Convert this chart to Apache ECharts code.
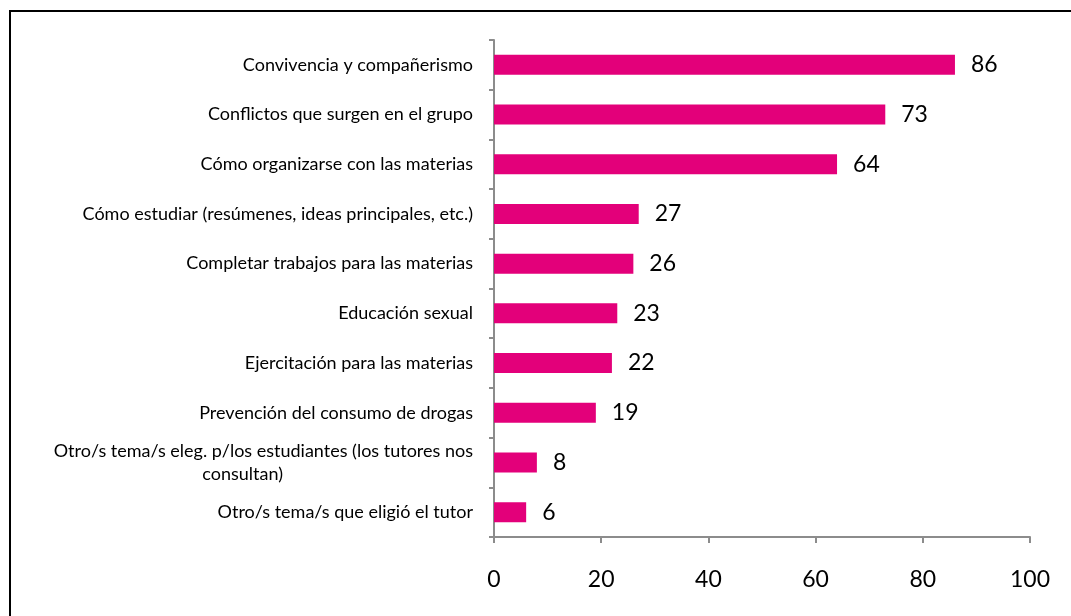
<!DOCTYPE html>
<html>
<head>
<meta charset="utf-8">
<script src="https://cdn.jsdelivr.net/npm/echarts@6/dist/echarts.min.js"></script>
<style>
  html, body { margin: 0; padding: 0; background: #fff; }
  #main { width: 1071px; height: 616px; }
</style>
</head>
<body>
<div id="main"></div>
<script>
// categorias (de abajo hacia arriba, como en el eje)
var temas = [
    'Otro/s tema/s que eligió el tutor',
    'Otro/s tema/s eleg. p/los estudiantes (los tutores nos consultan)',
    'Prevención del consumo de drogas',
    'Ejercitación para las materias',
    'Educación sexual',
    'Completar trabajos para las materias',
    'Cómo estudiar (resúmenes, ideas principales, etc.)',
    'Cómo organizarse con las materias',
    'Conflictos que surgen en el grupo',
    'Convivencia y compañerismo'
];
var valores = [6, 8, 19, 22, 23, 26, 27, 64, 73, 86];
var ticksX = [0, 20, 40, 60, 80, 100];

var chart = echarts.init(document.getElementById('main'));

var option = {
    animation: false,
    textStyle: { fontFamily: 'Lato, "Open Sans", sans-serif' },
    graphic: [{
        type: 'rect',
        shape: { x: 10, y: 11, width: 1200, height: 800 },
        style: { fill: 'none', stroke: '#000', lineWidth: 2 }
    }],
    grid: { left: 494, right: 41, top: 40, bottom: 79 },
    xAxis: {
        type: 'value',
        min: ticksX[0],
        max: ticksX[ticksX.length - 1],
        interval: 20,
        splitLine: { show: false },
        axisLine: { show: true, lineStyle: { color: '#8c8c8c', width: 2 } },
        axisTick: { show: true, length: 6, lineStyle: { color: '#8c8c8c', width: 2 } },
        axisLabel: { fontSize: 23, color: '#000', margin: 31 }
    },
    yAxis: {
        type: 'category',
        data: temas,
        axisLine: { lineStyle: { color: '#8c8c8c', width: 2 } },
        axisTick: { show: true, length: 5, lineStyle: { color: '#8c8c8c', width: 2 } },
        axisLabel: {
            fontSize: 18,
            color: '#000',
            margin: 21,
            formatter: function (v) {
                // la etiqueta larga va en dos lineas, la segunda centrada
                if (v.indexOf('eleg.') >= 0) {
                    return '{a|Otro/s tema/s eleg. p/los estudiantes (los tutores nos}\n{b|consultan)}';
                }
                return v;
            },
            rich: {
                a: { fontSize: 18, color: '#000', lineHeight: 23 },
                b: { fontSize: 18, color: '#000', lineHeight: 23, padding: [0, 190, 0, 0] }
            }
        }
    },
    series: [{
        type: 'bar',
        data: valores,
        barWidth: 20,
        itemStyle: { color: '#E3007A' },
        label: {
            show: true,
            position: 'right',
            distance: 16,
            fontSize: 23,
            color: '#000'
        }
    }]
};

chart.setOption(option);
</script>
</body>
</html>
